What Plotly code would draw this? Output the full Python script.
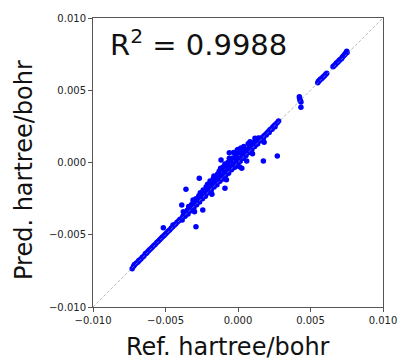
import plotly.graph_objects as go

# ---- data ----
ref_lower = [-0.0073, -0.0072, -0.00715, -0.0071, -0.0070, -0.0069, -0.00685, -0.0068, -0.0067, -0.0066,
             -0.0065, -0.0064, -0.00635, -0.0063, -0.0062, -0.0061, -0.0060, -0.0059, -0.0058, -0.0057,
             -0.0056, -0.0055, -0.0054, -0.0053, -0.0052, -0.0051, -0.0050, -0.0049, -0.0048, -0.0047,
             -0.0046, -0.0045, -0.0044, -0.0043, -0.0042, -0.0041, -0.00515, -0.00448]
pred_lower = [-0.00735, -0.00718, -0.00708, -0.00705, -0.00696, -0.00688, -0.0068, -0.00676, -0.00668, -0.00655,
              -0.00648, -0.00634, -0.00628, -0.00626, -0.00614, -0.00604, -0.00595, -0.00585, -0.00574, -0.00566,
              -0.00554, -0.00545, -0.00534, -0.00525, -0.00514, -0.00505, -0.00495, -0.00485, -0.00474, -0.00465,
              -0.00454, -0.00445, -0.00434, -0.00425, -0.00413, -0.00404, -0.00451, -0.00432]

ref_mid_a = [-0.0040, -0.0039, -0.0038, -0.0037, -0.0036, -0.0035, -0.0034, -0.0033, -0.0032, -0.0031,
             -0.0030, -0.0029, -0.0028, -0.0027, -0.0026, -0.0025, -0.0024, -0.0023, -0.0022, -0.0021,
             -0.0020, -0.0019, -0.0018, -0.0017, -0.0016, -0.0015, -0.0014, -0.0013, -0.0012, -0.0011,
             -0.0010, -0.0009, -0.0008, -0.0007, -0.0006, -0.0005, -0.0004, -0.0003, -0.0002, -0.0001,
             0.0000, 0.0001, 0.0002, 0.0003, 0.0004, 0.0005, 0.0006, 0.0007, 0.0008, 0.0009,
             0.0010, 0.0011, 0.0012, 0.0013, 0.0014, 0.0015, 0.0016, 0.0017, 0.0018, 0.0019,
             0.0020, 0.0021, 0.0022, 0.0023, 0.0024, 0.0025, 0.0026, 0.0027, 0.0028]
pred_mid_a = [-0.00392, -0.00395, -0.00372, -0.00368, -0.00352, -0.00348, -0.00330, -0.00335, -0.00311, -0.00300,
              -0.00295, -0.00280, -0.00276, -0.00262, -0.00248, -0.00246, -0.00232, -0.00220, -0.00215, -0.00203,
              -0.00190, -0.00185, -0.00172, -0.00160, -0.00155, -0.00142, -0.00130, -0.00126, -0.00112, -0.00100,
              -0.00095, -0.00082, -0.00072, -0.00066, -0.00052, -0.00042, -0.00036, -0.00024, -0.00012, -0.00006,
              0.00008, 0.00016, 0.00026, 0.00034, 0.00046, 0.00054, 0.00066, 0.00074, 0.00085, 0.00094,
              0.00105, 0.00114, 0.00125, 0.00134, 0.00145, 0.00154, 0.00166, 0.00174, 0.00185, 0.00194,
              0.00205, 0.00214, 0.00226, 0.00234, 0.00245, 0.00256, 0.00264, 0.00275, 0.00288]

ref_mid_b = [-0.00385, -0.00365, -0.00345, -0.00325, -0.00305, -0.00285, -0.00265, -0.00245, -0.00225, -0.00205,
             -0.00185, -0.00165, -0.00145, -0.00125, -0.00105, -0.00085, -0.00065, -0.00045, -0.00025, -0.00005,
             0.00015, 0.00035, 0.00055, 0.00075, 0.00095, 0.00115, 0.00135, 0.00155, 0.00175, 0.00195,
             0.00215, 0.00235, 0.00255]
pred_mid_b = [-0.00398, -0.00372, -0.00356, -0.00330, -0.00316, -0.00292, -0.00274, -0.00250, -0.00234, -0.00210,
              -0.00194, -0.00170, -0.00154, -0.00130, -0.00114, -0.00090, -0.00074, -0.00050, -0.00034, -0.00010,
              0.00008, 0.00030, 0.00048, 0.00070, 0.00088, 0.00110, 0.00128, 0.00150, 0.00168, 0.00190,
              0.00208, 0.00230, 0.00248]

ref_mid_e = [-0.0035, -0.0033, -0.0031, -0.0029, -0.0027, -0.0025, -0.0023, -0.0021, -0.0019, -0.0017,
             -0.0015, -0.0013, -0.0011, -0.0009, -0.0007, -0.0005, -0.0003, -0.0001, 0.0001, 0.0003,
             0.0005, 0.0007, 0.0009, 0.0011, 0.0013, 0.0015]
pred_mid_e = [-0.00330, -0.00312, -0.00290, -0.00268, -0.00250, -0.00228, -0.00208, -0.00186, -0.00168, -0.00146,
              -0.00128, -0.00106, -0.00088, -0.00066, -0.00048, -0.00026, -0.00008, 0.00014, 0.00032, 0.00052,
              0.00072, 0.00092, 0.00110, 0.00130, 0.00150, 0.00168]

ref_scatter = [-0.0034, -0.0032, -0.0031, -0.0029, -0.0027, -0.0026, -0.0024, -0.0022, -0.0021, -0.0019,
               -0.0017, -0.0016, -0.0014, -0.0013, -0.0011, -0.0010, -0.0008, -0.0007, -0.0005, -0.0004,
               -0.0002, -0.0001, 0.0001, 0.0003, 0.0005, 0.0008, 0.0011, 0.0014, -0.0012, -0.0006,
               0.0000, -0.0003, 0.0002, 0.0004, 0.0007, -0.0009, -0.0030, -0.0018, -0.0008, 0.0001,
               0.0010, 0.0018, 0.0006, -0.00388, -0.00377, -0.0029, -0.00308, 0.00083, 0.00117]
pred_scatter = [-0.00305, -0.0029, -0.0026, -0.0025, -0.0023, -0.0021, -0.0019, -0.0017, -0.0015, -0.0014,
                -0.0011, -0.0010, -0.0008, -0.0006, -0.0005, -0.0003, -0.0002, 0.0000, 0.0001, 0.0003,
                0.0004, 0.0006, 0.0007, 0.0008, 0.0009, 0.0011, 0.0014, 0.0017, -0.0004, 0.0003,
                0.0009, 0.0007, 0.0010, 0.0011, 0.0013, -0.0001, -0.0034, -0.0022, -0.0012, -0.0003,
                0.0006, 0.0014, 0.0001, -0.00294, -0.0034, -0.00444, -0.00271, 0.00144, 0.00167]

ref_outlier = [-0.00359, -0.00267, -0.00193, -0.00166, -0.00243, -0.0009, -0.00117, -0.0006, -0.00005, 0.00175,
               0.00271, 0.00026]
pred_outlier = [-0.00185, -0.00109, -0.00128, -0.00093, -0.00329, -0.00179, 0.00017, 0.00068, 0.00087, 0.0001,
                0.00045, -0.0004]

ref_upper = [0.00423, 0.00425, 0.00428, 0.00430, 0.00434, 0.00434,
             0.00550, 0.00555, 0.00560, 0.00566, 0.00570, 0.00578, 0.00585, 0.00590, 0.00598, 0.00605, 0.00612,
             0.00655, 0.00660, 0.00668, 0.00675, 0.00680, 0.00688, 0.00695, 0.00700, 0.00708, 0.00715,
             0.00720, 0.00728, 0.00735, 0.00740, 0.00745, 0.00750, 0.00752]
pred_upper = [0.00455, 0.00445, 0.00433, 0.00425, 0.00418, 0.00382,
              0.00552, 0.00562, 0.00566, 0.00572, 0.00578, 0.00582, 0.00590, 0.00596, 0.00602, 0.00610, 0.00617,
              0.00662, 0.00668, 0.00675, 0.00682, 0.00690, 0.00694, 0.00702, 0.00710, 0.00715, 0.00720,
              0.00730, 0.00738, 0.00745, 0.00752, 0.00760, 0.00770, 0.00762]

axis_limits = [-0.010, 0.010]
tick_values = [-0.010, -0.005, 0.000, 0.005, 0.010]
tick_labels = ["\u22120.010", "\u22120.005", "0.000", "0.005", "0.010"]
r2_value = 0.9988

ref_all = ref_lower + ref_mid_a + ref_mid_b + ref_mid_e + ref_scatter + ref_outlier + ref_upper
pred_all = pred_lower + pred_mid_a + pred_mid_b + pred_mid_e + pred_scatter + pred_outlier + pred_upper

fig = go.Figure()
fig.add_trace(go.Scatter(
    x=ref_all, y=pred_all, mode="markers",
    marker=dict(color="#0000ff", size=5.5, line=dict(width=0)),
    showlegend=False, hoverinfo="skip"))
fig.add_trace(go.Scatter(
    x=axis_limits, y=axis_limits, mode="lines",
    line=dict(color="rgba(150,150,150,0.85)", width=0.8, dash="3px,2px"),
    showlegend=False, hoverinfo="skip"))

axis_common = dict(
    range=axis_limits, tickvals=tick_values, ticktext=tick_labels,
    showgrid=False, zeroline=False, showline=True, mirror=True, automargin=False,
    linecolor="#555555", linewidth=1, ticks="outside", ticklen=4,
    tickcolor="#555555", tickwidth=1,
    tickfont=dict(family="DejaVu Sans", size=10, color="#222222"),
)
fig.update_xaxes(**axis_common)
fig.update_yaxes(**axis_common)

title_font = dict(family="DejaVu Sans", size=24, color="#111111")
fig.update_layout(
    width=398, height=359,
    margin=dict(l=93, r=15, t=18, b=52),
    paper_bgcolor="white", plot_bgcolor="white",
    annotations=[
        dict(text=f"R<sup>2</sup> = {r2_value}", xref="paper", yref="paper",
             x=0.052, y=0.985, xanchor="left", yanchor="top", showarrow=False,
             font=dict(family="DejaVu Sans", size=29, color="#111111")),
        dict(text="Ref. hartree/bohr", xref="paper", yref="paper",
             x=0.466, y=-0.137, xanchor="center", yanchor="middle", showarrow=False,
             font=title_font),
        dict(text="Pred. hartree/bohr", xref="paper", yref="paper",
             x=-0.238, y=0.474, xanchor="center", yanchor="middle", showarrow=False,
             textangle=-90, font=title_font),
    ],
)

fig.write_html("out.html", config={"displayModeBar": False},
               post_script="document.body.style.margin='0';")
